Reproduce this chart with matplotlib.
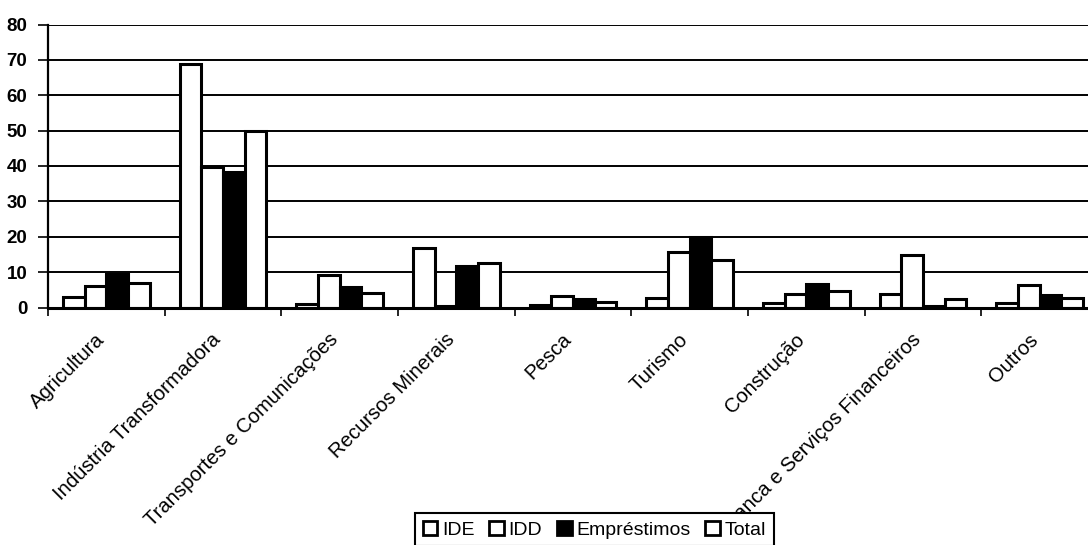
import numpy as np
import matplotlib
matplotlib.use("Agg")
import matplotlib.pyplot as plt
from matplotlib.patches import Patch
from matplotlib.transforms import ScaledTranslation

plt.rcParams["font.family"] = ["Liberation Sans", "DejaVu Sans"]

categories = ["Agricultura", "Indústria Transformadora", "Transportes e Comunicações",
              "Recursos Minerais", "Pesca", "Turismo", "Construção",
              "Banca e Serviços Financeiros", "Outros"]
ide = [3.0, 68.8, 1.0, 16.7, 0.8, 2.7, 1.3, 3.9, 1.3]
idd = [6.1, 39.6, 9.3, 0.5, 3.3, 15.6, 3.9, 14.9, 6.3]
emprestimos = [9.6, 38.4, 5.9, 11.8, 2.4, 20.0, 6.7, 0.5, 3.5]
total = [6.8, 49.8, 4.0, 12.6, 1.6, 13.3, 4.6, 2.5, 2.8]
series = ["IDE", "IDD", "Empréstimos", "Total"]
fills = ["white", "white", "black", "white"]
yticks = [0, 10, 20, 30, 40, 50, 60, 70, 80]

fig = plt.figure(figsize=(10.88, 5.45), dpi=100)
ax = fig.add_axes([48 / 1088, (545 - 307.5) / 545, 1050 / 1088, (307.5 - 24.5) / 545])

x = np.arange(len(categories))
w = 0.186
for i, (vals, fc) in enumerate(zip([ide, idd, emprestimos, total], fills)):
    ax.bar(x + (i - 1.5) * w, vals, width=w, color=fc, edgecolor="black",
           linewidth=2.2, zorder=3)

ax.set_xlim(-0.5, len(categories) - 0.5)
ax.set_ylim(0, 80)
ax.set_yticks(yticks)
ax.yaxis.grid(True, color="black", linewidth=1.4, zorder=0)
for lab in ax.get_yticklabels():
    lab.set_fontweight("bold")
    lab.set_fontsize(13.5)
ax.tick_params(axis="y", length=7, width=1.2, pad=8, color="black")

# category boundaries carry the tick marks, centres carry the labels
ax.set_xticks(np.arange(len(categories) + 1) - 0.5)
ax.set_xticklabels([])
ax.tick_params(axis="x", which="major", length=6, width=1.2, direction="out")
ax.set_xticks(x, minor=True)
ax.set_xticklabels(categories, minor=True, rotation=45, ha="right",
                   va="center", rotation_mode="anchor", fontsize=14.6)
ax.tick_params(axis="x", which="minor", length=0, pad=21)
shift = ScaledTranslation(-5 / 100, 0, fig.dpi_scale_trans)
for lab in ax.get_xticklabels(minor=True):
    lab.set_transform(lab.get_transform() + shift)

for side in ["top", "right"]:
    ax.spines[side].set_visible(False)
ax.spines["left"].set_linewidth(1.6)
ax.spines["bottom"].set_linewidth(2.2)
ax.spines["bottom"].set_zorder(4)

handles = [Patch(facecolor=fc, edgecolor="black", linewidth=2) for fc in fills]
leg = fig.legend(handles, series, loc="upper left",
                 bbox_to_anchor=(415 / 1088, 1 - 513 / 545), ncol=4,
                 fontsize=14, frameon=True, fancybox=False, framealpha=1,
                 edgecolor="black", handlelength=0.75, handleheight=0.75,
                 handletextpad=0.25, columnspacing=0.75, borderpad=0.4,
                 borderaxespad=0)
leg.get_frame().set_linewidth(1.5)

fig.savefig("out.png", dpi=100, facecolor="white")
